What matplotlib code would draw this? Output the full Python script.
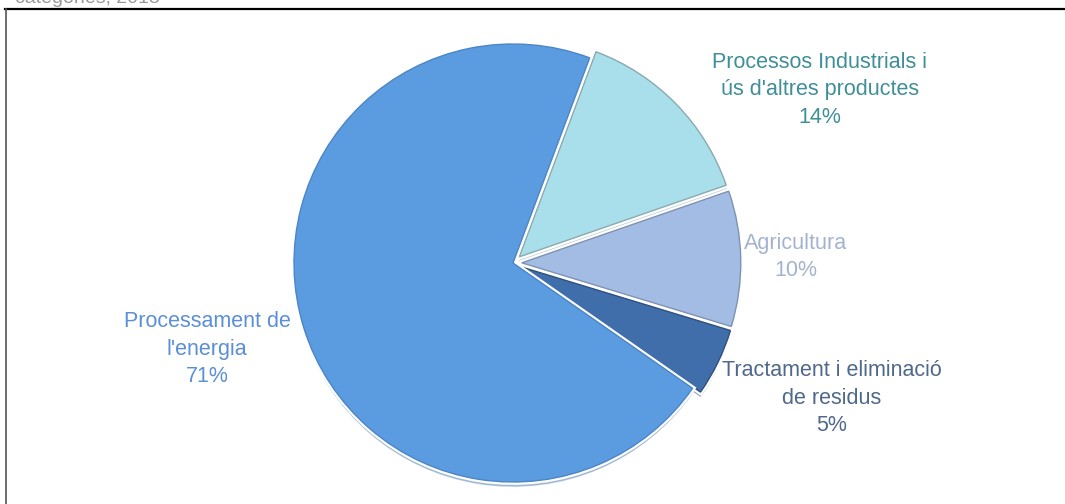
import matplotlib.pyplot as plt
import matplotlib.patheffects as pe
from matplotlib.lines import Line2D

# ==========================================
# DATA
# ==========================================

labels = [
    "Processos Industrials i\nús d'altres productes",
    "Agricultura",
    "Tractament i eliminació\nde residus",
    "Processament de\nl'energia",
]
shares = [14, 10, 5, 71]
colors = ["#a8dfea", "#a2bce4", "#3f6eab", "#5b9be0"]
edge_colors = ["#8aa9b0", "#7f93b0", "#2f507c", "#4c85c8"]
text_colors = ["#3f8f98", "#a3b3cf", "#4f688b", "#5b8fd6"]
explode = [0.04, 0.04, 0.04, 0.0]

# label positions in pixel coordinates (x, y from bottom)
label_pos = [(820, 414), (796, 247), (832, 106), (207, 155)]

# ==========================================
# FIGURE
# ==========================================

radius = 219

fig = plt.figure(figsize=(10.65, 5.04), dpi=100)
ax = fig.add_axes([0, 0, 1, 1])

# explode is in data units when radius != 1, so scale it
wedges, _ = ax.pie(
    shares,
    colors=colors,
    explode=[e * radius for e in explode],
    startangle=69.5,
    counterclock=False,
    center=(513, 241),
    radius=radius,
    frame=True,
    shadow=dict(ox=0, oy=-3, shade=0.25, alpha=0.35),
    wedgeprops=dict(linewidth=1.0),
)
for w, ec in zip(wedges, edge_colors):
    w.set_edgecolor(ec)
    w.set_path_effects([pe.Stroke(linewidth=4, foreground="white"), pe.Normal()])

ax.set_xlim(0, 1065)
ax.set_ylim(0, 504)
ax.set_aspect("equal")
ax.axis("off")

for lab, val, (x, y), c in zip(labels, shares, label_pos, text_colors):
    ax.text(
        x, y,
        f"{lab}\n{val}%",
        ha="center",
        va="center",
        fontsize=15.5,
        color=c,
        family="Liberation Sans",
        linespacing=1.38,
    )

# cut-off heading and frame lines
fig.text(15 / 1065, 1 - 3 / 504, "categories, 2013", fontsize=14,
         color="#999999", family="Liberation Sans", va="baseline")
fig.add_artist(Line2D([5 / 1065, 1], [1 - 8.5 / 504] * 2,
                      color="black", linewidth=1.6))
fig.add_artist(Line2D([5.5 / 1065] * 2, [0, 1 - 8.5 / 504],
                      color="#555555", linewidth=1.2))

plt.savefig("out.png", dpi=100)
